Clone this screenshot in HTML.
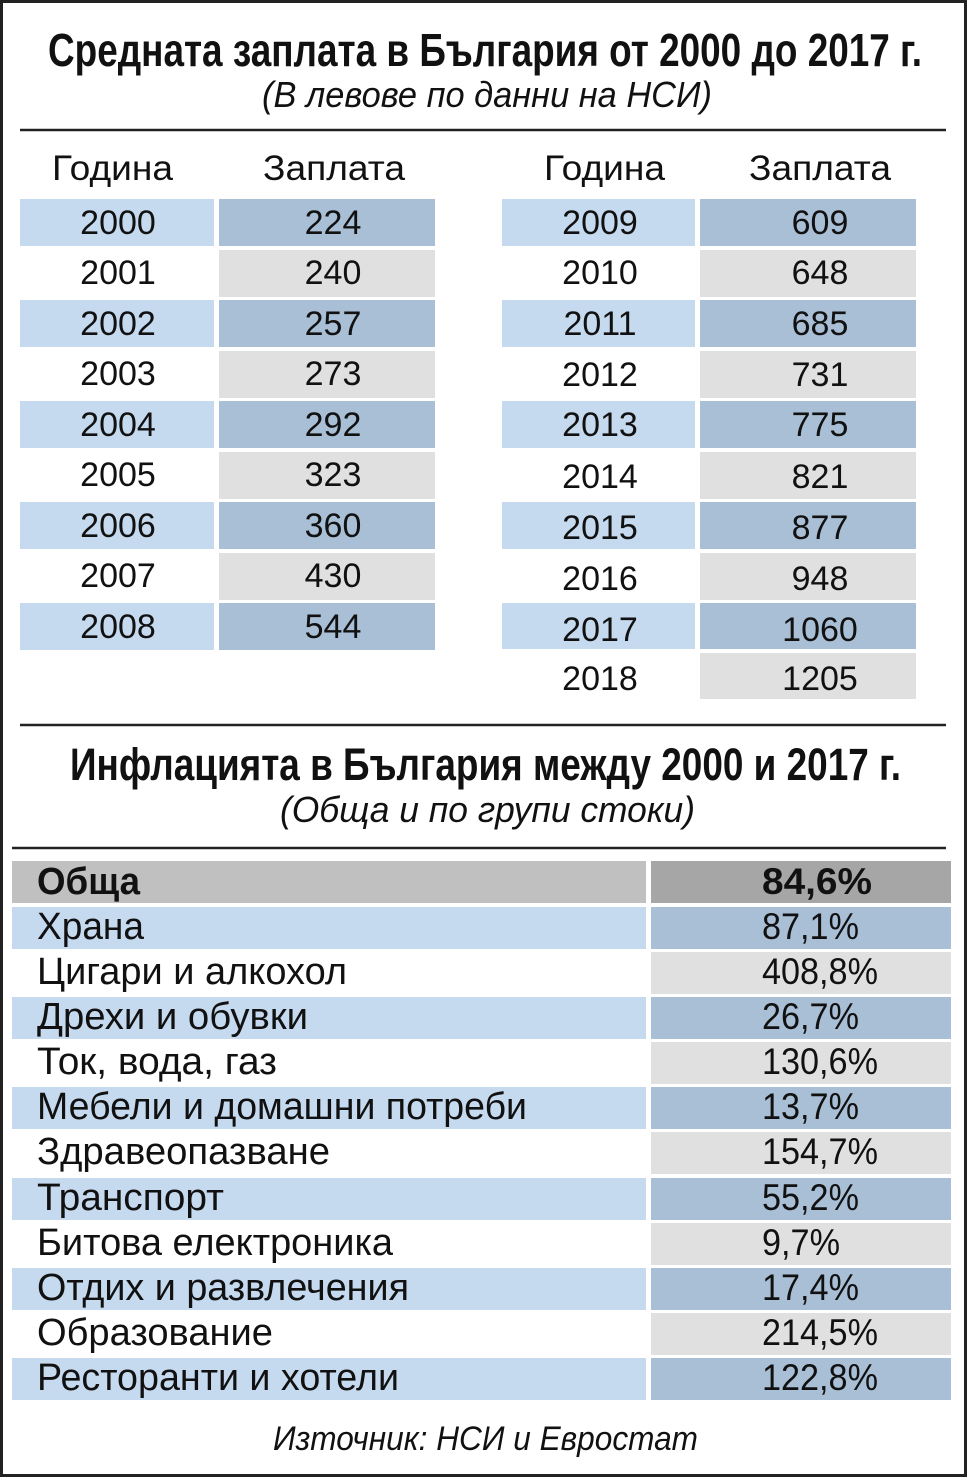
<!DOCTYPE html>
<html><head><meta charset="utf-8"><style>
html,body{margin:0;padding:0;background:#fff;}
svg{display:block;}
text{font-family:"Liberation Sans","DejaVu Sans",sans-serif;fill:#111;}
.b{font-weight:bold;}
.i{font-style:italic;}
.n{font-size:34px;text-anchor:middle;}
.l{font-size:38px;}
.v{font-size:37px;}
</style></head><body>
<svg width="970" height="1478" viewBox="0 0 970 1478" xmlns="http://www.w3.org/2000/svg">
<rect x="0" y="0" width="970" height="1478" fill="#fff"/>
<rect x="1.5" y="1.5" width="964" height="1474" fill="none" stroke="#222" stroke-width="3"/>

<text x="48" y="66" class="b" font-size="46" textLength="874" lengthAdjust="spacingAndGlyphs">Средната заплата в България от 2000 до 2017 г.</text>
<text x="262" y="107" class="i" font-size="36" textLength="450" lengthAdjust="spacingAndGlyphs">(В левове по данни на НСИ)</text>
<line x1="20" y1="130" x2="946" y2="130" stroke="#222" stroke-width="2.5"/>

<text x="52" y="180" font-size="35" textLength="121" lengthAdjust="spacingAndGlyphs">Година</text>
<text x="263" y="180" font-size="35" textLength="142" lengthAdjust="spacingAndGlyphs">Заплата</text>
<text x="544" y="180" font-size="35" textLength="121" lengthAdjust="spacingAndGlyphs">Година</text>
<text x="749" y="180" font-size="35" textLength="142" lengthAdjust="spacingAndGlyphs">Заплата</text>

<g>
<rect x="20" y="199" width="194" height="47" fill="#c5d9ef"/><rect x="219" y="199" width="216" height="47" fill="#a9bfd6"/>
<rect x="219" y="250" width="216" height="47" fill="#e0e0e0"/>
<rect x="20" y="300" width="194" height="47" fill="#c5d9ef"/><rect x="219" y="300" width="216" height="47" fill="#a9bfd6"/>
<rect x="219" y="351" width="216" height="47" fill="#e0e0e0"/>
<rect x="20" y="401" width="194" height="47" fill="#c5d9ef"/><rect x="219" y="401" width="216" height="47" fill="#a9bfd6"/>
<rect x="219" y="452" width="216" height="47" fill="#e0e0e0"/>
<rect x="20" y="502" width="194" height="47" fill="#c5d9ef"/><rect x="219" y="502" width="216" height="47" fill="#a9bfd6"/>
<rect x="219" y="553" width="216" height="47" fill="#e0e0e0"/>
<rect x="20" y="603" width="194" height="47" fill="#c5d9ef"/><rect x="219" y="603" width="216" height="47" fill="#a9bfd6"/>
</g>
<text class="n" x="118" y="234">2000</text><text class="n" x="333" y="234">224</text>
<text class="n" x="118" y="284">2001</text><text class="n" x="333" y="284">240</text>
<text class="n" x="118" y="335">2002</text><text class="n" x="333" y="335">257</text>
<text class="n" x="118" y="385">2003</text><text class="n" x="333" y="385">273</text>
<text class="n" x="118" y="436">2004</text><text class="n" x="333" y="436">292</text>
<text class="n" x="118" y="486">2005</text><text class="n" x="333" y="486">323</text>
<text class="n" x="118" y="537">2006</text><text class="n" x="333" y="537">360</text>
<text class="n" x="118" y="587">2007</text><text class="n" x="333" y="587">430</text>
<text class="n" x="118" y="638">2008</text><text class="n" x="333" y="638">544</text>

<g>
<rect x="502" y="199" width="193" height="47" fill="#c5d9ef"/><rect x="700" y="199" width="216" height="47" fill="#a9bfd6"/>
<rect x="700" y="250" width="216" height="47" fill="#e0e0e0"/>
<rect x="502" y="300" width="193" height="47" fill="#c5d9ef"/><rect x="700" y="300" width="216" height="47" fill="#a9bfd6"/>
<rect x="700" y="351" width="216" height="47" fill="#e0e0e0"/>
<rect x="502" y="401" width="193" height="47" fill="#c5d9ef"/><rect x="700" y="401" width="216" height="47" fill="#a9bfd6"/>
<rect x="700" y="452" width="216" height="47" fill="#e0e0e0"/>
<rect x="502" y="502" width="193" height="47" fill="#c5d9ef"/><rect x="700" y="502" width="216" height="47" fill="#a9bfd6"/>
<rect x="700" y="553" width="216" height="47" fill="#e0e0e0"/>
<rect x="502" y="603" width="193" height="46" fill="#c5d9ef"/><rect x="700" y="603" width="216" height="46" fill="#a9bfd6"/>
<rect x="700" y="653" width="216" height="46" fill="#e0e0e0"/>
</g>
<text class="n" x="600" y="234">2009</text><text class="n" x="820" y="234">609</text>
<text class="n" x="600" y="284">2010</text><text class="n" x="820" y="284">648</text>
<text class="n" x="600" y="335">2011</text><text class="n" x="820" y="335">685</text>
<text class="n" x="600" y="386">2012</text><text class="n" x="820" y="386">731</text>
<text class="n" x="600" y="436">2013</text><text class="n" x="820" y="436">775</text>
<text class="n" x="600" y="488">2014</text><text class="n" x="820" y="488">821</text>
<text class="n" x="600" y="539">2015</text><text class="n" x="820" y="539">877</text>
<text class="n" x="600" y="590">2016</text><text class="n" x="820" y="590">948</text>
<text class="n" x="600" y="641">2017</text><text class="n" x="820" y="641">1060</text>
<text class="n" x="600" y="690">2018</text><text class="n" x="820" y="690">1205</text>

<line x1="20" y1="725" x2="946" y2="725" stroke="#222" stroke-width="2.5"/>
<text x="70" y="780" class="b" font-size="45" textLength="831" lengthAdjust="spacingAndGlyphs">Инфлацията в България между 2000 и 2017 г.</text>
<text x="280" y="822" class="i" font-size="36" textLength="415" lengthAdjust="spacingAndGlyphs">(Обща и по групи стоки)</text>
<line x1="12" y1="848" x2="946" y2="848" stroke="#222" stroke-width="2.5"/>

<g>
<rect x="12" y="861" width="634" height="42" fill="#c0c0c0"/><rect x="651" y="861" width="300" height="42" fill="#a6a6a6"/>
<rect x="12" y="907" width="634" height="42" fill="#c5d9ef"/><rect x="651" y="907" width="300" height="42" fill="#a9bfd6"/>
<rect x="651" y="952" width="300" height="42" fill="#e0e0e0"/>
<rect x="12" y="997" width="634" height="42" fill="#c5d9ef"/><rect x="651" y="997" width="300" height="42" fill="#a9bfd6"/>
<rect x="651" y="1042" width="300" height="42" fill="#e0e0e0"/>
<rect x="12" y="1087" width="634" height="42" fill="#c5d9ef"/><rect x="651" y="1087" width="300" height="42" fill="#a9bfd6"/>
<rect x="651" y="1132" width="300" height="42" fill="#e0e0e0"/>
<rect x="12" y="1178" width="634" height="42" fill="#c5d9ef"/><rect x="651" y="1178" width="300" height="42" fill="#a9bfd6"/>
<rect x="651" y="1223" width="300" height="42" fill="#e0e0e0"/>
<rect x="12" y="1268" width="634" height="42" fill="#c5d9ef"/><rect x="651" y="1268" width="300" height="42" fill="#a9bfd6"/>
<rect x="651" y="1313" width="300" height="42" fill="#e0e0e0"/>
<rect x="12" y="1358" width="634" height="42" fill="#c5d9ef"/><rect x="651" y="1358" width="300" height="42" fill="#a9bfd6"/>
</g>
<g lengthAdjust="spacingAndGlyphs">
<text x="37" y="894" class="l b" textLength="103" lengthAdjust="spacingAndGlyphs">Обща</text><text x="762" y="894" class="v b" textLength="110" lengthAdjust="spacingAndGlyphs">84,6%</text>
<text x="37" y="939" class="l" textLength="107" lengthAdjust="spacingAndGlyphs">Храна</text><text x="762" y="939" class="v" textLength="97" lengthAdjust="spacingAndGlyphs">87,1%</text>
<text x="37" y="984" class="l" textLength="310" lengthAdjust="spacingAndGlyphs">Цигари и алкохол</text><text x="762" y="984" class="v" textLength="116" lengthAdjust="spacingAndGlyphs">408,8%</text>
<text x="37" y="1029" class="l" textLength="271" lengthAdjust="spacingAndGlyphs">Дрехи и обувки</text><text x="762" y="1029" class="v" textLength="97" lengthAdjust="spacingAndGlyphs">26,7%</text>
<text x="37" y="1074" class="l" textLength="240" lengthAdjust="spacingAndGlyphs">Ток, вода, газ</text><text x="762" y="1074" class="v" textLength="116" lengthAdjust="spacingAndGlyphs">130,6%</text>
<text x="37" y="1119" class="l" textLength="490" lengthAdjust="spacingAndGlyphs">Мебели и домашни потреби</text><text x="762" y="1119" class="v" textLength="97" lengthAdjust="spacingAndGlyphs">13,7%</text>
<text x="37" y="1164" class="l" textLength="293" lengthAdjust="spacingAndGlyphs">Здравеопазване</text><text x="762" y="1164" class="v" textLength="116" lengthAdjust="spacingAndGlyphs">154,7%</text>
<text x="37" y="1210" class="l" textLength="187" lengthAdjust="spacingAndGlyphs">Транспорт</text><text x="762" y="1210" class="v" textLength="97" lengthAdjust="spacingAndGlyphs">55,2%</text>
<text x="37" y="1255" class="l" textLength="356" lengthAdjust="spacingAndGlyphs">Битова електроника</text><text x="762" y="1255" class="v" textLength="78" lengthAdjust="spacingAndGlyphs">9,7%</text>
<text x="37" y="1300" class="l" textLength="372" lengthAdjust="spacingAndGlyphs">Отдих и развлечения</text><text x="762" y="1300" class="v" textLength="97" lengthAdjust="spacingAndGlyphs">17,4%</text>
<text x="37" y="1345" class="l" textLength="236" lengthAdjust="spacingAndGlyphs">Образование</text><text x="762" y="1345" class="v" textLength="116" lengthAdjust="spacingAndGlyphs">214,5%</text>
<text x="37" y="1390" class="l" textLength="362" lengthAdjust="spacingAndGlyphs">Ресторанти и хотели</text><text x="762" y="1390" class="v" textLength="116" lengthAdjust="spacingAndGlyphs">122,8%</text>
</g>

<text x="273" y="1450" class="i" font-size="34" textLength="425" lengthAdjust="spacingAndGlyphs">Източник: НСИ и Евростат</text>
</svg>
</body></html>
